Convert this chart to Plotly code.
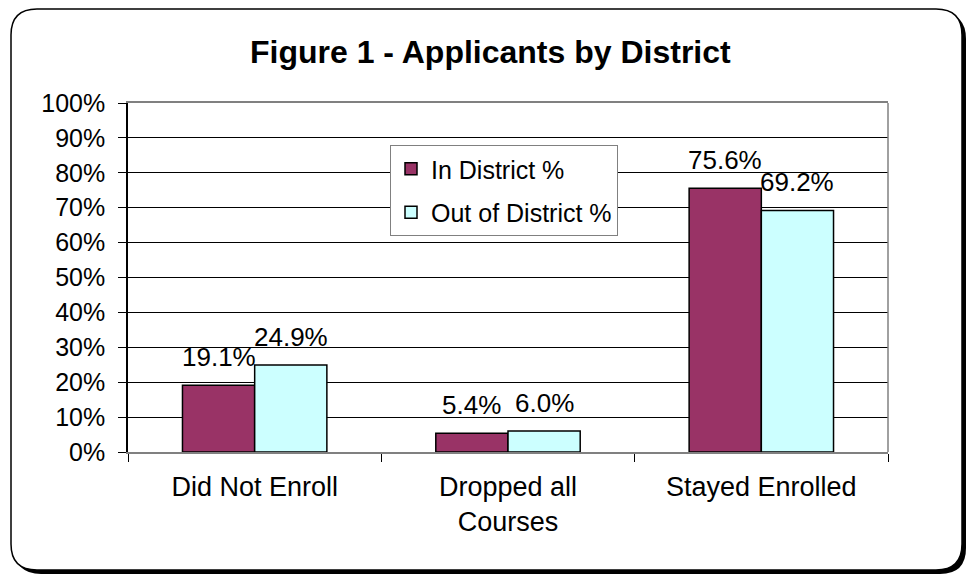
import plotly.graph_objects as go

categories = ["Did Not Enroll", "Dropped all<br>Courses", "Stayed Enrolled"]
in_district = [0.191, 0.054, 0.756]
out_district = [0.249, 0.060, 0.692]
series_names = ["In District %", "Out of District %"]
colors = ["#993366", "#CCFFFF"]
title_text = "<b>Figure 1 - Applicants by District</b>"

W, H = 967, 576
ML, MR, MT, MB = 128, 79, 103, 124
PW, PH = W - ML - MR, H - MT - MB
FONT = "Liberation Sans, Arial, sans-serif"
BARGAP = 0.43
LABEL_GAP = 17


def fx(px):
    return (px - ML) / PW


def fy(py):
    return (H - MB - py) / PH


def rounded_rect(x0, y0, x1, y1, r):
    pts = [
        f"M {fx(x0 + r)} {fy(y0)}",
        f"L {fx(x1 - r)} {fy(y0)}",
        f"Q {fx(x1)} {fy(y0)} {fx(x1)} {fy(y0 + r)}",
        f"L {fx(x1)} {fy(y1 - r)}",
        f"Q {fx(x1)} {fy(y1)} {fx(x1 - r)} {fy(y1)}",
        f"L {fx(x0 + r)} {fy(y1)}",
        f"Q {fx(x0)} {fy(y1)} {fx(x0)} {fy(y1 - r)}",
        f"L {fx(x0)} {fy(y0 + r)}",
        f"Q {fx(x0)} {fy(y0)} {fx(x0 + r)} {fy(y0)}",
        "Z",
    ]
    return " ".join(pts)


fig = go.Figure()
series = [
    (series_names[0], in_district, colors[0], "a"),
    (series_names[1], out_district, colors[1], "b"),
]
for name, vals, col, grp in series:
    fig.add_trace(
        go.Bar(
            x=categories,
            y=vals,
            name=name,
            legendgroup=grp,
            marker=dict(color=col, line=dict(color="black", width=1.5)),
            cliponaxis=False,
        )
    )

# data labels, centred over each bar
bar_w = PW / len(categories) * (1 - BARGAP) / len(series)
annotations = []
for si, (name, vals, col, grp) in enumerate(series):
    offset = (si - (len(series) - 1) / 2) * bar_w
    for cat, v in zip(categories, vals):
        annotations.append(dict(
            x=cat, y=v, xref="x", yref="y", text=f"{v * 100:.1f}%",
            showarrow=False, xanchor="center", yanchor="bottom",
            xshift=offset, yshift=LABEL_GAP - 6,
            font=dict(size=26, family=FONT, color="black"),
        ))

annotations.append(dict(
    text=title_text, xref="paper", yref="paper",
    x=fx(490), y=fy(52), xanchor="center", yanchor="middle",
    showarrow=False, font=dict(size=32, family=FONT, color="black")))

shapes = [
    dict(type="path", xref="paper", yref="paper", layer="below",
         path=rounded_rect(15, 13, 966, 574, 26),
         fillcolor="black", line=dict(width=0)),
    dict(type="path", xref="paper", yref="paper", layer="below",
         path=rounded_rect(11, 9, 962, 570, 26),
         fillcolor="white", line=dict(color="black", width=1.5)),
    dict(type="line", xref="paper", yref="paper", layer="above",
         x0=1, x1=1, y0=0, y1=1, line=dict(color="#808080", width=1.5)),
]

fig.update_layout(
    width=W,
    height=H,
    margin=dict(l=ML, r=MR, t=MT, b=MB),
    paper_bgcolor="white",
    plot_bgcolor="rgba(0,0,0,0)",
    font=dict(family=FONT, size=24, color="black"),
    barmode="group",
    bargap=BARGAP,
    bargroupgap=0,
    shapes=shapes,
    annotations=annotations,
    showlegend=True,
    legend=dict(
        x=fx(390), y=fy(145), xanchor="left", yanchor="top",
        bgcolor="white", bordercolor="#808080", borderwidth=1,
        font=dict(size=25, family=FONT),
        traceorder="grouped", tracegroupgap=8,
    ),
)

fig.update_yaxes(
    range=[0, 1], dtick=0.1, tickformat=".0%",
    showgrid=True, gridcolor="black", gridwidth=1,
    showline=True, linecolor="black", linewidth=1.5,
    ticks="outside", ticklen=8, tickcolor="black", tickwidth=1,
    zeroline=False, ticklabelstandoff=8,
    tickfont=dict(size=25, family=FONT),
)
fig.update_xaxes(
    showline=True, linecolor="#808080", linewidth=1.5, mirror=True,
    ticks="outside", ticklen=8, tickcolor="black", tickwidth=1,
    tickson="boundaries", showgrid=False, ticklabelstandoff=10,
    tickfont=dict(size=27, family=FONT),
)

fig.write_html("out.html")
